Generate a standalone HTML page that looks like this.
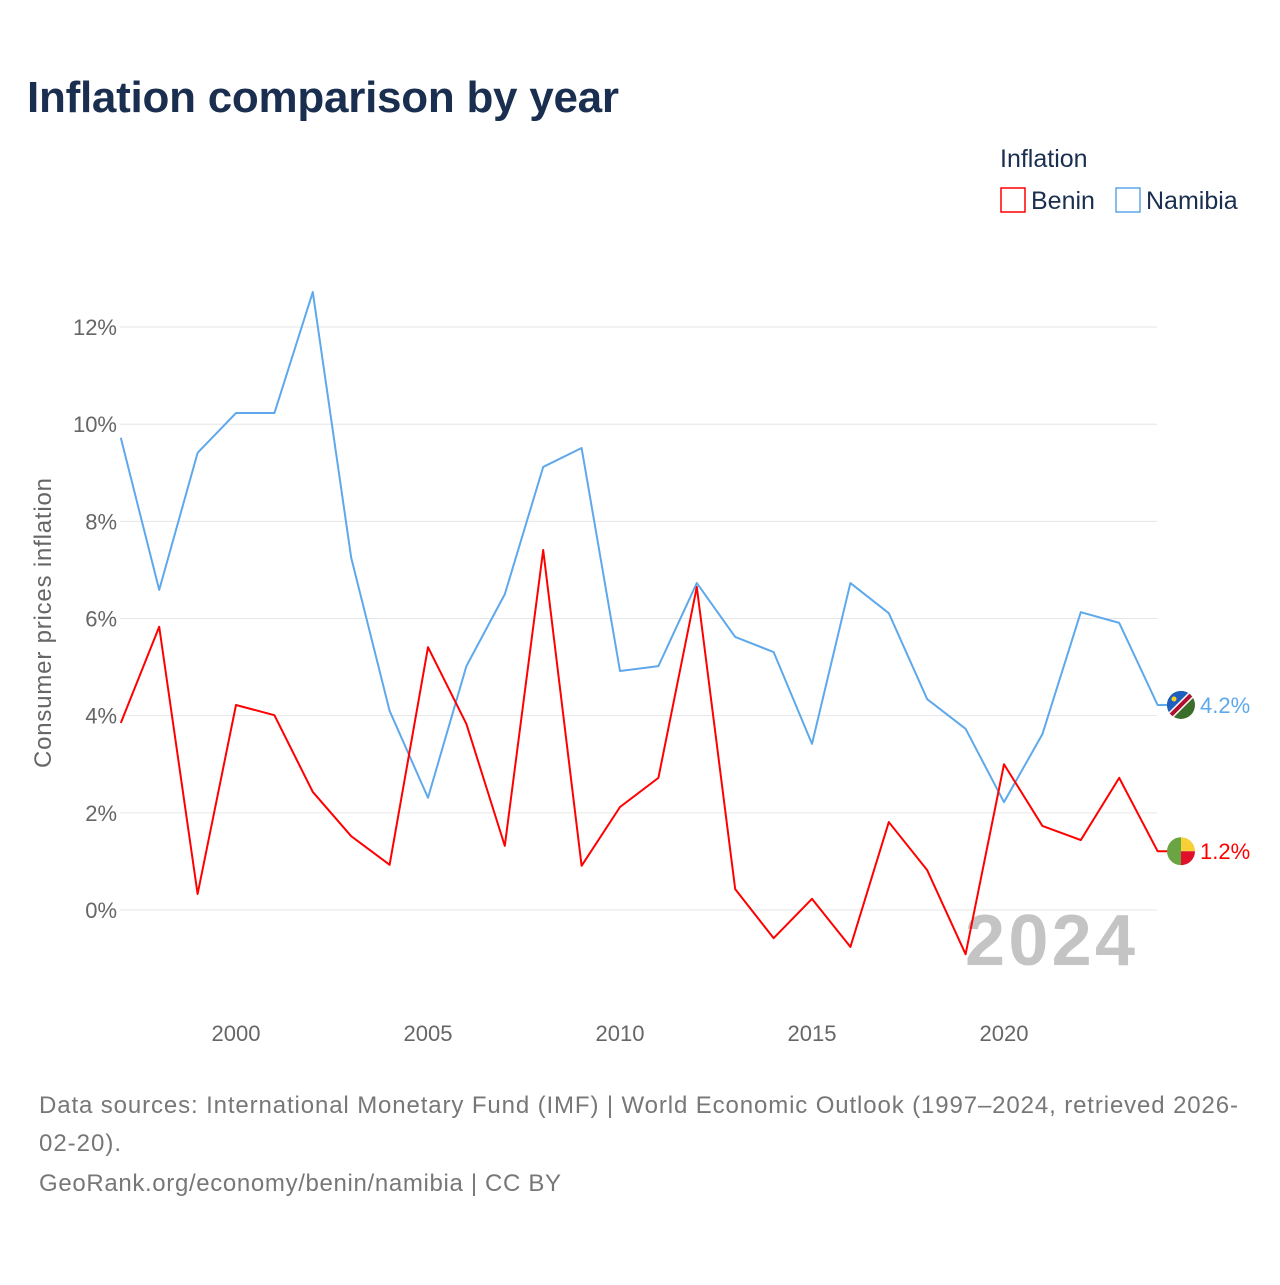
<!DOCTYPE html>
<html><head><meta charset="utf-8"><style>
body{margin:0;background:#fff;font-family:"Liberation Sans",sans-serif;}
svg text{font-family:"Liberation Sans",sans-serif;}
</style></head><body>
<svg width="1280" height="1280" viewBox="0 0 1280 1280">
<defs><clipPath id="fc1"><circle cx="1181" cy="0" r="14" id="fcc1"/></clipPath></defs>
<rect width="1280" height="1280" fill="#fff"/>
<text x="27" y="112" font-size="44" font-weight="bold" fill="#1a2e4f" textLength="592">Inflation comparison by year</text>
<text x="1000" y="167" font-size="25" fill="#1a2e4f">Inflation</text>
<g><rect x="1001" y="188" width="24" height="24" fill="none" stroke="#ff0000" stroke-width="1.5"/><text x="1031" y="209" font-size="25" fill="#1a2e4f">Benin</text></g>
<g><rect x="1116" y="188" width="24" height="24" fill="none" stroke="#5ea8ec" stroke-width="1.5"/><text x="1146" y="209" font-size="25" fill="#1a2e4f">Namibia</text></g>
<g id="grid"></g>
<g id="yticks"></g>
<g id="xticks"></g>
<text transform="translate(51,623) rotate(-90)" text-anchor="middle" font-size="24" fill="#666" textLength="290">Consumer prices inflation</text>
<text x="965" y="965" font-size="72" font-weight="bold" fill="#c4c4c4" textLength="170">2024</text>
<g id="series"></g>
<text x="39" y="1113" font-size="24" fill="#777" textLength="1199">Data sources: International Monetary Fund (IMF) | World Economic Outlook (1997–2024, retrieved 2026-</text>
<text x="39" y="1151" font-size="24" fill="#777" textLength="82">02-20).</text>
<text x="39" y="1191" font-size="24" fill="#777" textLength="522">GeoRank.org/economy/benin/namibia | CC BY</text>
</svg>
<script>
const years=[1997,1998,1999,2000,2001,2002,2003,2004,2005,2006,2007,2008,2009,2010,2011,2012,2013,2014,2015,2016,2017,2018,2019,2020,2021,2022,2023,2024];
const namibia=[9.72,6.59,9.41,10.23,10.23,12.72,7.25,4.10,2.31,5.02,6.50,9.12,9.51,4.92,5.02,6.73,5.62,5.31,3.42,6.73,6.11,4.34,3.73,2.22,3.62,6.13,5.91,4.22];
const benin=[3.85,5.83,0.33,4.22,4.01,2.43,1.52,0.93,5.41,3.83,1.32,7.41,0.91,2.12,2.72,6.65,0.43,-0.58,0.23,-0.76,1.81,0.82,-0.91,3.0,1.73,1.44,2.72,1.21];
const yTicks=[0,2,4,6,8,10,12];
const xTicks=[2000,2005,2010,2015,2020];
const NS="http://www.w3.org/2000/svg";
const X=y=>120.8+(y-1997)*38.4;
const Y=v=>910-v*48.58;
function mk(t,a,p){const e=document.createElementNS(NS,t);for(const k in a)e.setAttribute(k,a[k]);p.appendChild(e);return e;}
const grid=document.getElementById('grid'),yt=document.getElementById('yticks'),xt=document.getElementById('xticks'),ser=document.getElementById('series');
yTicks.forEach(v=>{
 const l=mk('line',{x1:120,x2:1157,y1:Y(v),y2:Y(v),stroke:'#e6e6e6','stroke-width':1},grid);
 
 
 const t=mk('text',{x:117,y:Y(v)+8,'text-anchor':'end','font-size':22,fill:'#666'},yt);
 t.textContent=v+'%';
 
 
});
xTicks.forEach(v=>{
 const t=mk('text',{x:X(v),y:1041,'text-anchor':'middle','font-size':22,fill:'#666'},xt);
 t.textContent=v;
 
 
});
function series(vals,color,name,flag){
 const pts=vals.map((v,i)=>X(years[i])+','+Y(vals[i]));
 const last=vals[vals.length-1];
 pts.push((X(years[years.length-1])+10)+','+Y(last));
 const p=mk('polyline',{points:pts.join(' '),fill:'none',stroke:color,'stroke-width':2,'stroke-linejoin':'round'},ser);
 
 
 const cy=Y(last);
 const g=mk('g',{},ser);
 
 
 if(flag==='nam'){
  document.getElementById('fcc1').setAttribute('cy',cy);
  g.setAttribute('clip-path','url(#fc1)');
  mk('rect',{x:1167,y:cy-14,width:28,height:28,fill:'#3a6e2a'},g);
  mk('path',{d:`M1167,${cy-14} L1195,${cy-14} L1167,${cy+14}Z`,fill:'#1f5fbf'},g);
  mk('line',{x1:1165,y1:cy+16,x2:1197,y2:cy-16,stroke:'#fff','stroke-width':7},g);
  mk('line',{x1:1165,y1:cy+16,x2:1197,y2:cy-16,stroke:'#b01030','stroke-width':4},g);
  mk('circle',{cx:1174,cy:cy-6,r:2.5,fill:'#ffd21f'},g);
 }else{
  mk('path',{d:`M1181,${cy-14} A14,14 0 0 0 1181,${cy+14}Z`,fill:'#6aa443'},g);
  mk('path',{d:`M1181,${cy-14} A14,14 0 0 1 1195,${cy} L1181,${cy}Z`,fill:'#f7d038'},g);
  mk('path',{d:`M1181,${cy} L1195,${cy} A14,14 0 0 1 1181,${cy+14}Z`,fill:'#e0102a'},g);
 }
 const t=mk('text',{x:1200,y:cy+8,'font-size':22,fill:color},ser);
 t.textContent=last.toFixed(1)+'%';
 
 
}
series(namibia,'#5ea8ec','namibia','nam');
series(benin,'#ff0000','benin','ben');
</script>
</body></html>
